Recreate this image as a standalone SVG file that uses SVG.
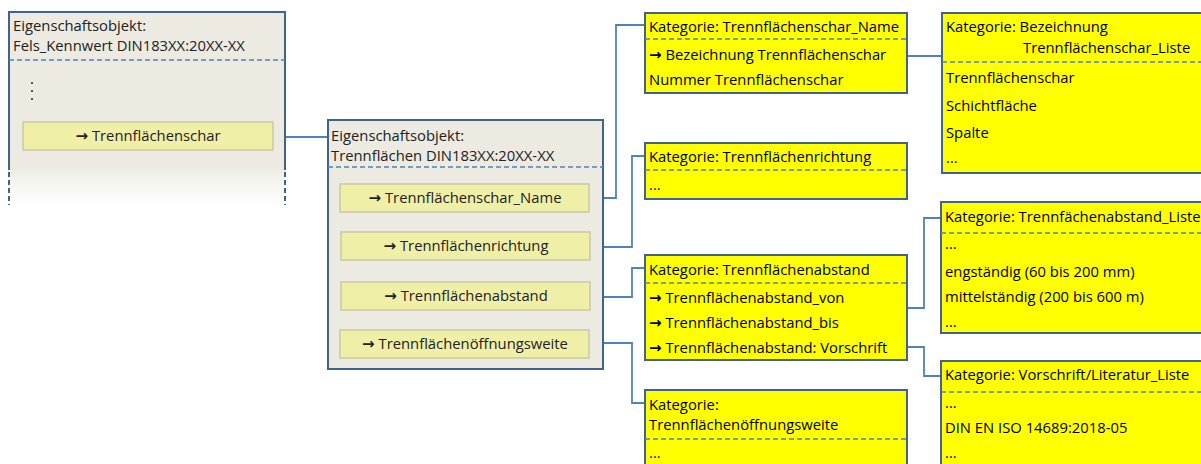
<svg xmlns="http://www.w3.org/2000/svg" width="1201" height="464" viewBox="0 0 1201 464">
<defs>
<linearGradient id="fade" x1="0" y1="0" x2="0" y2="1">
<stop offset="0" stop-color="#ECEAE1"/>
<stop offset="0.8" stop-color="#ECEAE1"/>
<stop offset="0.85" stop-color="#F2F1EB"/>
<stop offset="1" stop-color="#FFFFFF"/>
</linearGradient>
</defs>
<style>
text{font-family:"Open Sans","Noto Sans",sans-serif;font-size:14.8px;fill:#000}
.g text{fill:#222}
.ar{font-family:"DejaVu Sans",sans-serif;font-size:15px;font-weight:bold}
.obj{fill:#ECEAE1;stroke:#41628F;stroke-width:2}
.cat{fill:#FFFF00;stroke:#41628F;stroke-width:2}
.btn{fill:#F0EFA8;stroke:#C9C9A2;stroke-width:1.5}
.dash{stroke:#4F81BD;stroke-width:1.5;stroke-dasharray:5 3;fill:none}
.side{stroke:#41628F;stroke-width:2;fill:none}
.con path{stroke:#4F81BD;stroke-width:1.8;fill:none}
.c{text-anchor:middle}
</style>

<g id="connectors" class="con">
<path d="M285 137 H328"/>
<path d="M603 198 H616 V25 H645"/>
<path d="M603 247 H632 V156 H645"/>
<path d="M603 297 H632 V268 H645"/>
<path d="M603 343 H632 V403 H645"/>
<path d="M907 56 H942"/>
<path d="M907 308 H924 V218 H941"/>
<path d="M907 347 H924 V376 H941"/>
</g>

<g id="node-fels" class="g">
<rect x="9" y="12" width="276" height="193" fill="url(#fade)"/>
<path class="side" d="M9 170 V12 H285 V170"/>
<path class="side" d="M9 172 V205 M285 172 V205" stroke-dasharray="5 3"/>
<line class="dash" x1="9" y1="60" x2="285" y2="60"/>
<text x="13" y="31">Eigenschaftsobjekt:</text>
<text x="13" y="51">Fels_Kennwert DIN183XX:20XX-XX</text>
<circle cx="32" cy="83" r="1" fill="#222"/>
<circle cx="32" cy="91" r="1" fill="#222"/>
<circle cx="32" cy="99" r="1" fill="#222"/>
<rect class="btn" x="23" y="122" width="250" height="28"/>
<text class="c" x="148" y="141"><tspan class="ar">→</tspan> Trennflächenschar</text>
</g>

<g id="node-trennflaechen" class="g">
<rect class="obj" x="328" y="120" width="275" height="249"/>
<line class="dash" x1="328" y1="167" x2="603" y2="167"/>
<text x="331" y="141">Eigenschaftsobjekt:</text>
<text x="331" y="161">Trennflächen DIN183XX:20XX-XX</text>
<rect class="btn" x="340" y="184" width="249" height="28"/>
<text class="c" x="465" y="203"><tspan class="ar">→</tspan> Trennflächenschar_Name</text>
<rect class="btn" x="341" y="232" width="249" height="28"/>
<text class="c" x="466" y="251"><tspan class="ar">→</tspan> Trennflächenrichtung</text>
<rect class="btn" x="341" y="282" width="249" height="28"/>
<text class="c" x="466" y="301"><tspan class="ar">→</tspan> Trennflächenabstand</text>
<rect class="btn" x="340" y="330" width="249" height="28"/>
<text class="c" x="465" y="349"><tspan class="ar">→</tspan> Trennflächenöffnungsweite</text>
</g>

<g id="node-kat-name">
<rect class="cat" x="645" y="13" width="262" height="80"/>
<line class="dash" x1="645" y1="39" x2="907" y2="39"/>
<text x="649" y="32">Kategorie: Trennflächenschar_Name</text>
<text x="649" y="60"><tspan class="ar">→</tspan> Bezeichnung Trennflächenschar</text>
<text x="649" y="85">Nummer Trennflächenschar</text>
</g>

<g id="node-kat-richtung">
<rect class="cat" x="645" y="143" width="262" height="56"/>
<line class="dash" x1="645" y1="170" x2="907" y2="170"/>
<text x="649" y="162">Kategorie: Trennflächenrichtung</text>
<text x="649" y="190">...</text>
</g>

<g id="node-kat-abstand">
<rect class="cat" x="645" y="255" width="262" height="105"/>
<line class="dash" x1="645" y1="283" x2="907" y2="283"/>
<text x="649" y="275">Kategorie: Trennflächenabstand</text>
<text x="649" y="303"><tspan class="ar">→</tspan> Trennflächenabstand_von</text>
<text x="649" y="328"><tspan class="ar">→</tspan> Trennflächenabstand_bis</text>
<text x="649" y="353"><tspan class="ar">→</tspan> Trennflächenabstand: Vorschrift</text>
</g>

<g id="node-kat-oeffnung">
<rect class="cat" x="645" y="390" width="262" height="80"/>
<line class="dash" x1="645" y1="439" x2="907" y2="439"/>
<text x="649" y="410">Kategorie:</text>
<text x="649" y="430">Trennflächenöffnungsweite</text>
<text x="649" y="458">...</text>
</g>

<g id="node-bez-liste">
<rect class="cat" x="942" y="13" width="270" height="160"/>
<line class="dash" x1="942" y1="62" x2="1212" y2="62"/>
<text x="946" y="32">Kategorie: Bezeichnung</text>
<text x="1023" y="53">Trennflächenschar_Liste</text>
<text x="946" y="83">Trennflächenschar</text>
<text x="946" y="111">Schichtfläche</text>
<text x="946" y="138">Spalte</text>
<text x="946" y="163">...</text>
</g>

<g id="node-abstand-liste">
<rect class="cat" x="941" y="202" width="270" height="131"/>
<line class="dash" x1="941" y1="233" x2="1211" y2="233"/>
<text x="945" y="222">Kategorie: Trennfächenabstand_Liste</text>
<text x="945" y="249">...</text>
<text x="945" y="277">engständig (60 bis 200 mm)</text>
<text x="945" y="302">mittelständig (200 bis 600 m)</text>
<text x="945" y="327">...</text>
</g>

<g id="node-vorschrift-liste">
<rect class="cat" x="941" y="361" width="270" height="110"/>
<line class="dash" x1="941" y1="392" x2="1211" y2="392"/>
<text x="945" y="380">Kategorie: Vorschrift/Literatur_Liste</text>
<text x="945" y="408">...</text>
<text x="945" y="433">DIN EN ISO 14689:2018-05</text>
<text x="945" y="458">...</text>
</g>
</svg>
